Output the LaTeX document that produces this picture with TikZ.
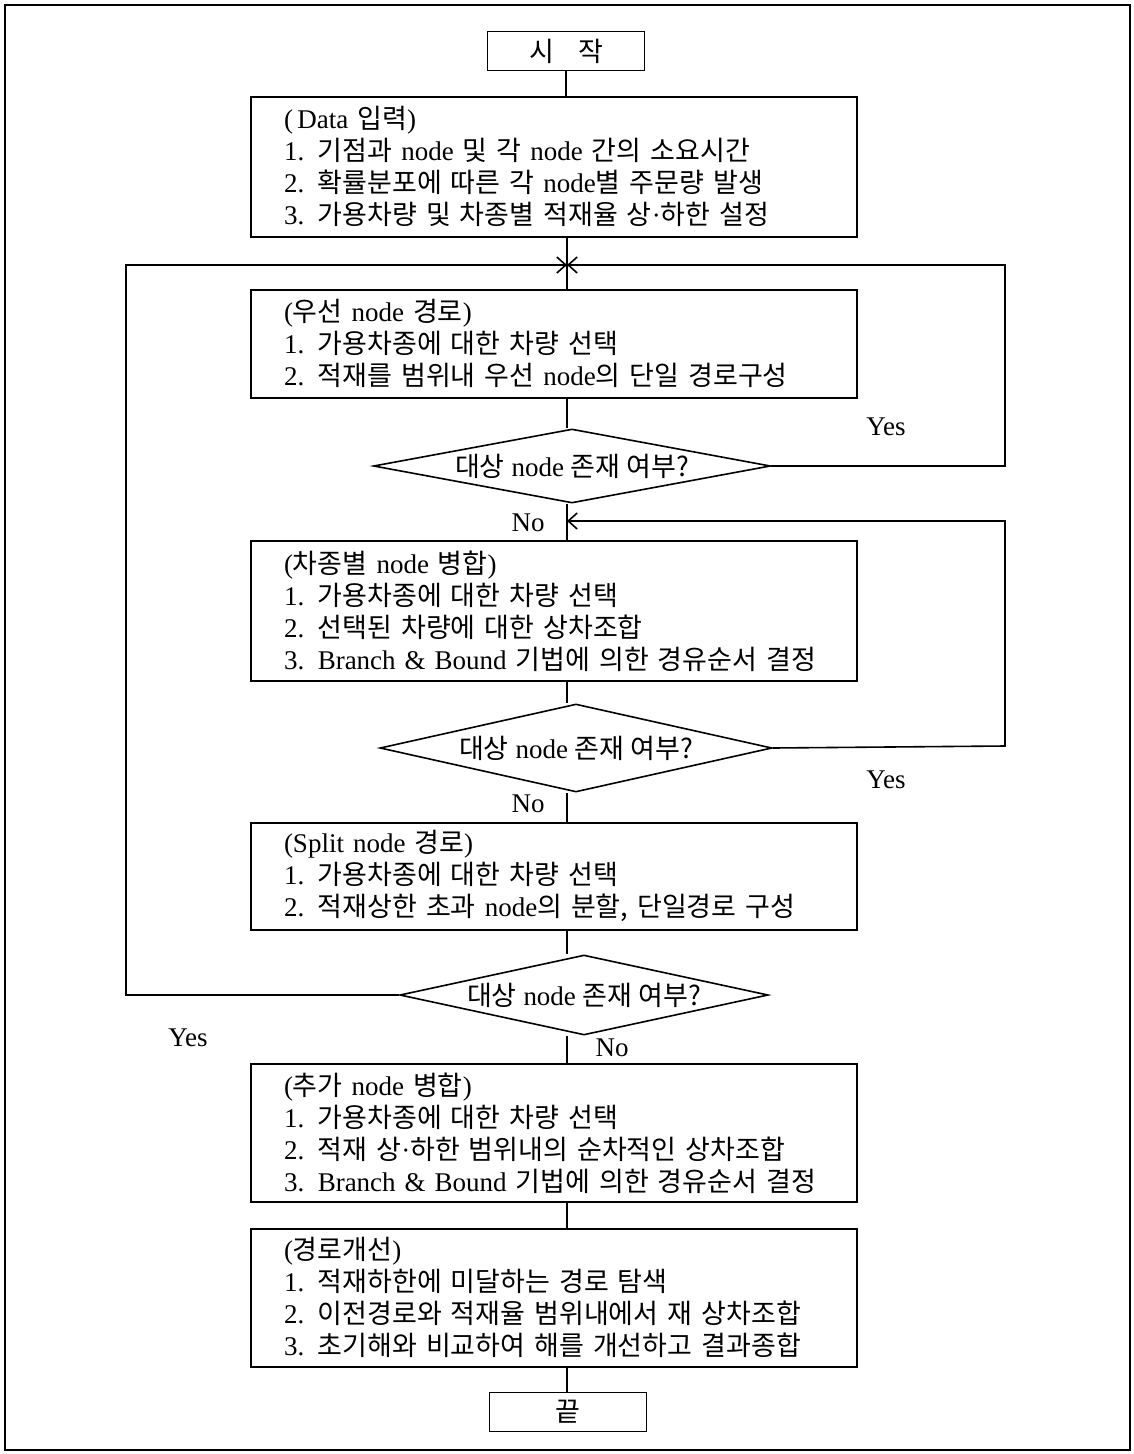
\documentclass[tikz,border=0pt]{standalone}
\usepackage{fontspec}
\setmainfont{Liberation Serif}
\newfontfamily\krfont{Noto Sans CJK KR}
\newcommand\K[1]{{\krfont #1}}
\usetikzlibrary{shapes.geometric,arrows.meta}
\begin{document}
\begin{tikzpicture}[x=1pt,y=-1pt, line width=1.6pt,
  txt/.style={font=\fontsize{27}{32}\selectfont},
  box/.style={draw, rectangle, anchor=north, text width=540pt, inner xsep=33pt, inner ysep=0pt, align=left, txt},
  term/.style={draw, rectangle, minimum width=157pt, minimum height=39pt, inner sep=0pt, txt},
  dec/.style={draw, diamond, aspect=5.5, inner sep=0pt, txt},
  lbl/.style={inner sep=0pt, txt},
  arr/.style={-{Straight Barb[length=9pt,width=16pt]}}
]
\useasboundingbox (0,0) rectangle (1134,1454);
\draw (5,5) rectangle (1130,1450);
\coordinate (sx) at (567,0);

\node[term] (start) at (566,51) {\K{시\hspace{0.9em}작}};

\node[box, minimum height=140pt] (b1) at (554,96) {(\,Data \K{입력})\\
1. \K{기점과} node \K{및 각} node \K{간의 소요시간}\\
2. \K{확률분포에 따른 각} node\K{별 주문량 발생}\\
3. \K{가용차량 및 차종별 적재율 상}·\K{하한 설정}};

\node[box, minimum height=108pt] (b2) at (554,289) {(\K{우선} node \K{경로})\\
1. \K{가용차종에 대한 차량 선택}\\
2. \K{적재를 범위내 우선} node\K{의 단일 경로구성}};

\node[dec, minimum width=397pt, minimum height=74pt] (d1) at (572,466) {\K{대상} node \K{존재 여부?}};

\node[box, minimum height=140pt] (b3) at (554,540) {(\K{차종별} node \K{병합})\\
1. \K{가용차종에 대한 차량 선택}\\
2. \K{선택된 차량에 대한 상차조합}\\
3. Branch \& Bound \K{기법에 의한 경유순서 결정}};

\node[dec, minimum width=392pt, minimum height=88pt] (d2) at (576,748) {\K{대상} node \K{존재 여부?}};

\node[box, minimum height=107pt] (b4) at (554,822) {(Split node \K{경로})\\
1. \K{가용차종에 대한 차량 선택}\\
2. \K{적재상한 초과} node\K{의 분할, 단일경로 구성}};

\node[dec, minimum width=368pt, minimum height=80pt] (d3) at (584,995) {\K{대상} node \K{존재 여부?}};

\node[box, minimum height=138pt] (b5) at (554,1063) {(\K{추가} node \K{병합})\\
1. \K{가용차종에 대한 차량 선택}\\
2. \K{적재 상}·\K{하한 범위내의 순차적인 상차조합}\\
3. Branch \& Bound \K{기법에 의한 경유순서 결정}};

\node[box, minimum height=138pt] (b6) at (554,1228) {(\K{경로개선})\\
1. \K{적재하한에 미달하는 경로 탐색}\\
2. \K{이전경로와 적재율 범위내에서 재 상차조합}\\
3. \K{초기해와 비교하여 해를 개선하고 결과종합}};

\node[term] (end) at (568,1412) {\K{끝}};

\coordinate (junc) at (567,265);
\coordinate (rj) at (567,521);

% spine
\draw (start.south) -- (start.south |- b1.north);
\draw (b1.south -| sx) -- (b2.north -| sx);
\draw (b2.south -| sx) -- (d1.north -| sx);
\draw (d1.south -| sx) -- (b3.north -| sx);
\draw (b3.south -| sx) -- (d2.north -| sx);
\draw (d2.south -| sx) -- (b4.north -| sx);
\draw (b4.south -| sx) -- (d3.north -| sx);
\draw (d3.south -| sx) -- (b5.north -| sx);
\draw (b5.south -| sx) -- (b6.north -| sx);
\draw (b6.south -| sx) -- (end.north -| sx);

% loops
\draw[arr] (d1.east) -- (1005,466) -- (1005,265) -- (junc);
\draw[arr] (d2.east) -- (1005,746) -- (1005,521) -- (rj);
\draw[arr] (d3.west) -- (126,995) -- (126,265) -- (junc);

% labels
\node[lbl] (y1) at (886,427) {Yes};
\node[lbl] (n1) at (528,523) {No};
\node[lbl] (y2) at (886,780) {Yes};
\node[lbl] (n2) at (528,804) {No};
\node[lbl] (y3) at (188,1038) {Yes};
\node[lbl] (n3) at (612,1048) {No};
\end{tikzpicture}
\end{document}
